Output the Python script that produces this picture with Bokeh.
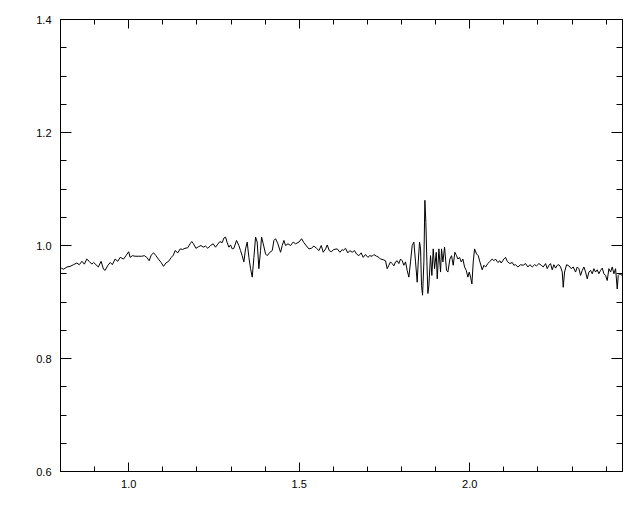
from bokeh.plotting import figure
from bokeh.models import FixedTicker, LinearAxis, Range1d, NumeralTickFormatter, CustomLabelingPolicy
from bokeh.embed import file_html
from bokeh.resources import INLINE

# ---- data ----
wave_a = [0.802, 0.809, 0.819, 0.828, 0.838, 0.848, 0.855, 0.863, 0.870, 0.877, 0.884, 0.892, 0.897, 0.904,
          0.911, 0.919, 0.926, 0.931, 0.939, 0.946, 0.952, 0.960, 0.968, 0.975, 0.985, 0.992, 1.000, 1.004,
          1.011, 1.019, 1.029, 1.038, 1.046, 1.053, 1.060, 1.066, 1.073, 1.080, 1.087, 1.095, 1.102, 1.109,
          1.117, 1.125, 1.131, 1.136, 1.144, 1.151, 1.158, 1.165, 1.173, 1.180, 1.185, 1.190, 1.197, 1.205, 1.212]
flux_a = [0.960, 0.958, 0.962, 0.963, 0.966, 0.969, 0.966, 0.972, 0.967, 0.976, 0.972, 0.967, 0.970, 0.966,
          0.962, 0.972, 0.958, 0.956, 0.965, 0.970, 0.966, 0.976, 0.972, 0.979, 0.976, 0.982, 0.989, 0.979,
          0.982, 0.981, 0.981, 0.981, 0.982, 0.979, 0.973, 0.983, 0.987, 0.982, 0.976, 0.970, 0.963, 0.969,
          0.972, 0.979, 0.983, 0.991, 0.987, 0.994, 0.993, 0.995, 0.996, 1.003, 1.007, 1.003, 0.995, 0.998, 1.000]

wave_b = [1.2184, 1.2253, 1.2321, 1.2399, 1.2477, 1.2546, 1.2595, 1.2673, 1.2741, 1.2790, 1.2839, 1.2888,
          1.2937, 1.2986, 1.3035, 1.3084, 1.3162, 1.3230, 1.3279, 1.3328, 1.3377, 1.3426, 1.3475, 1.3524,
          1.3573, 1.3622, 1.3671, 1.3720, 1.3768, 1.3817, 1.3866, 1.3896, 1.3945, 1.4013, 1.4062, 1.4140,
          1.4209, 1.4258, 1.4307, 1.4375, 1.4453, 1.4502, 1.4551, 1.4600, 1.4669, 1.4747, 1.4825, 1.4894,
          1.4991, 1.5069, 1.5138, 1.5216, 1.5284, 1.5353, 1.5431, 1.5509, 1.5578, 1.5646, 1.5705, 1.5773,
          1.5822, 1.5881, 1.5940, 1.6018, 1.6115, 1.6194, 1.6262]
flux_b = [0.997, 0.999, 0.995, 1.000, 1.003, 0.997, 1.001, 1.007, 1.005, 1.013, 1.015, 1.005,
          0.997, 1.001, 0.994, 0.995, 1.009, 1.000, 0.991, 0.982, 0.971, 0.994, 1.006, 0.979,
          0.959, 0.944, 0.979, 1.015, 1.006, 0.959, 0.991, 1.015, 1.003, 0.985, 0.982, 0.988,
          0.991, 1.009, 1.012, 1.003, 0.988, 1.000, 1.009, 1.000, 1.003, 1.000, 1.006, 1.003,
          1.006, 1.012, 1.005, 0.999, 0.994, 0.995, 0.999, 0.995, 0.991, 1.000, 0.988, 0.994,
          1.001, 0.991, 0.989, 0.993, 0.994, 0.988, 0.993]

wave_c = [1.6289, 1.6358, 1.6426, 1.6485, 1.6553, 1.6622, 1.6680, 1.6749, 1.6817, 1.6876, 1.6944, 1.7013,
          1.7071, 1.7140, 1.7189, 1.7267, 1.7335, 1.7384, 1.7462, 1.7531, 1.7580, 1.7629, 1.7677, 1.7726,
          1.7775, 1.7824, 1.7873, 1.7922, 1.7971, 1.8020, 1.8069, 1.8118, 1.8166, 1.8215, 1.8264, 1.8313,
          1.8362, 1.8411, 1.8460, 1.8490, 1.8529, 1.8558, 1.8587, 1.8617, 1.8656, 1.8685, 1.8714, 1.8744,
          1.8773, 1.8802, 1.8851, 1.8890, 1.8930, 1.8969, 1.9018, 1.9047, 1.9096, 1.9144, 1.9174, 1.9213,
          1.9262, 1.9320, 1.9360, 1.9418, 1.9467, 1.9516, 1.9565, 1.9614, 1.9653, 1.9702, 1.9751, 1.9800,
          1.9849, 1.9898, 1.9946, 1.9986, 2.0025, 2.0064, 2.0103, 2.0142, 2.0201, 2.0250, 2.0299]
flux_c = [0.991, 0.995, 0.987, 0.991, 0.988, 0.991, 0.985, 0.982, 0.987, 0.979, 0.984, 0.979,
          0.982, 0.981, 0.984, 0.981, 0.979, 0.976, 0.975, 0.973, 0.959, 0.965, 0.971, 0.968,
          0.964, 0.971, 0.973, 0.968, 0.976, 0.973, 0.965, 0.971, 0.956, 0.944, 0.971, 1.000,
          1.006, 0.971, 0.935, 0.971, 1.006, 0.994, 0.929, 0.912, 0.971, 1.080, 1.041, 0.971,
          0.915, 0.929, 0.982, 0.947, 0.994, 0.959, 0.988, 0.941, 0.994, 0.953, 0.994, 0.971,
          0.997, 0.956, 0.953, 0.976, 0.982, 0.965, 0.988, 0.982, 0.976, 0.979, 0.971, 0.976,
          0.962, 0.956, 0.944, 0.953, 0.944, 0.932, 0.971, 0.994, 0.985, 0.982, 0.971]

wave_d = [2.0366, 2.0415, 2.0464, 2.0532, 2.0591, 2.0659, 2.0708, 2.0757, 2.0826, 2.0884, 2.0923, 2.1001,
          2.1050, 2.1099, 2.1177, 2.1246, 2.1295, 2.1344, 2.1412, 2.1490, 2.1569, 2.1637, 2.1706, 2.1764,
          2.1833, 2.1901, 2.1960, 2.2028, 2.2097, 2.2155, 2.2224, 2.2273, 2.2322, 2.2370, 2.2419, 2.2468,
          2.2517, 2.2566, 2.2615, 2.2664, 2.2713, 2.2742, 2.2781, 2.2840, 2.2908, 2.2977, 2.3035, 2.3104,
          2.3153, 2.3202, 2.3250, 2.3299, 2.3348, 2.3397, 2.3446, 2.3495, 2.3544, 2.3593, 2.3641, 2.3690,
          2.3739, 2.3788, 2.3837, 2.3886, 2.3935, 2.3984, 2.4032, 2.4081, 2.4130, 2.4179, 2.4228, 2.4277,
          2.4326, 2.4355, 2.4404, 2.4472, 2.4521]
flux_d = [0.957, 0.965, 0.962, 0.968, 0.972, 0.976, 0.973, 0.976, 0.970, 0.973, 0.969, 0.976,
          0.979, 0.972, 0.968, 0.970, 0.965, 0.966, 0.962, 0.966, 0.965, 0.968, 0.962, 0.966,
          0.962, 0.966, 0.964, 0.968, 0.965, 0.962, 0.968, 0.959, 0.965, 0.968, 0.957, 0.966,
          0.960, 0.965, 0.966, 0.962, 0.953, 0.926, 0.953, 0.966, 0.964, 0.959, 0.962, 0.953,
          0.962, 0.959, 0.947, 0.956, 0.962, 0.953, 0.941, 0.953, 0.956, 0.950, 0.959, 0.953,
          0.957, 0.950, 0.956, 0.960, 0.950, 0.947, 0.938, 0.959, 0.953, 0.962, 0.950, 0.959,
          0.923, 0.947, 0.950, 0.947, 0.950]

x_major = [1.0, 1.5, 2.0]
x_minor = [round(0.8 + 0.1 * i, 2) for i in range(17)]
y_major = [0.6, 0.8, 1.0, 1.2, 1.4]
y_minor = [round(0.6 + 0.05 * i, 2) for i in range(17)]

wave = wave_a + wave_b + wave_c + wave_d
flux = flux_a + flux_b + flux_c + flux_d

p = figure(width=632, height=504,
           x_range=Range1d(0.8, 2.448), y_range=Range1d(0.6, 1.4),
           output_backend="svg", toolbar_location=None,
           min_border_left=60, min_border_right=10, min_border_top=19, min_border_bottom=33)
p.xgrid.visible = False
p.ygrid.visible = False
p.outline_line_color = "black"
p.background_fill_color = "white"
p.border_fill_color = "white"

p.line(wave, flux, line_color="black", line_width=1)

FONT = "Liberation Sans"

NO_LABELS = CustomLabelingPolicy(code="""
    const all = Array.from(indices)
    for (const i of all) indices.unset(i)
    return indices
""")


def style(ax, ticker, major_in, minor_in, labels, standoff):
    ax.ticker = ticker
    ax.axis_line_color = "black"
    ax.axis_line_width = 1
    ax.major_tick_in = major_in
    ax.major_tick_out = 0
    ax.minor_tick_in = minor_in
    ax.minor_tick_out = 0
    ax.major_tick_line_color = "black"
    ax.minor_tick_line_color = "black"
    ax.formatter = NumeralTickFormatter(format="0.0")
    ax.major_label_text_font = FONT
    ax.major_label_text_color = "black"
    if labels:
        ax.major_label_text_font_size = "11px"
        ax.major_label_standoff = standoff
    else:
        ax.major_label_text_font_size = "0px"
        ax.major_label_policy = NO_LABELS
        ax.major_label_standoff = 0


xt = FixedTicker(ticks=x_major, minor_ticks=x_minor)
yt = FixedTicker(ticks=y_major, minor_ticks=y_minor)

style(p.xaxis[0], xt, 9, 5, True, 8)
style(p.yaxis[0], yt, 11, 6, True, 9)

top = LinearAxis()
style(top, FixedTicker(ticks=x_major, minor_ticks=x_minor), 9, 5, False, 0)
p.add_layout(top, "above")

right = LinearAxis()
style(right, FixedTicker(ticks=y_major, minor_ticks=y_minor), 11, 6, False, 0)
p.add_layout(right, "right")

open("out.html", "w").write(file_html(p, INLINE))
